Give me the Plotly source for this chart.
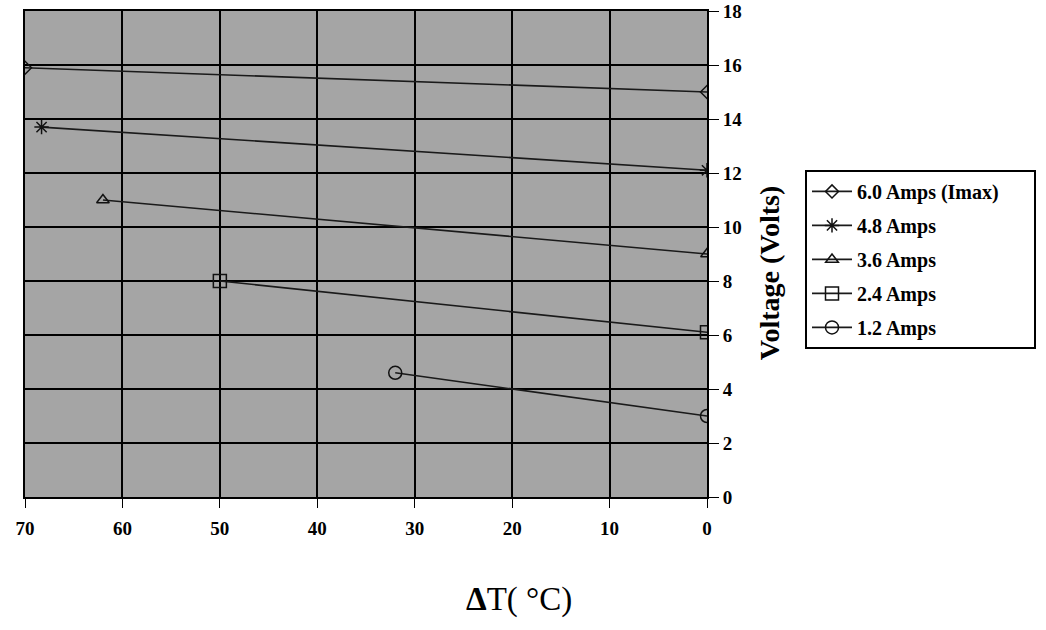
import plotly.graph_objects as go

# Data
series_names = ["6.0 Amps (Imax)", "4.8 Amps", "3.6 Amps", "2.4 Amps", "1.2 Amps"]
dt_values = [
    [70, 0],
    [68.3, 0],
    [62, 0],
    [50, 0],
    [32, 0],
]
voltage_values = [
    [15.9, 15.0],
    [13.7, 12.1],
    [11.0, 9.0],
    [8.0, 6.1],
    [4.6, 3.0],
]
markers = ["diamond-open", "asterisk-open", "triangle-up-open", "square-open", "circle-open"]
marker_sizes = [10, 12, 11, 13, 13]

x_ticks = [70, 60, 50, 40, 30, 20, 10, 0]
y_ticks = [0, 2, 4, 6, 8, 10, 12, 14, 16, 18]

FONT = "Liberation Serif"

fig = go.Figure()
for i, (name, xs, ys, m, s) in enumerate(zip(series_names, dt_values, voltage_values, markers, marker_sizes)):
    label = name + ("\u00a0" * 6 if i == 0 else "")
    fig.add_trace(go.Scatter(
        x=xs, y=ys, name=label, mode="lines+markers", legendgroup=f"g{i}",
        line=dict(color="#1a1a1a", width=1.6),
        marker=dict(symbol=m, size=s, color="#111111", line=dict(width=1.5, color="#111111")),
    ))

fig.update_layout(
    width=1046, height=630,
    paper_bgcolor="white",
    plot_bgcolor="#a5a5a5",
    margin=dict(l=25, r=339, t=11, b=133, autoexpand=False),
    font=dict(family=FONT, size=15, color="black"),
    xaxis=dict(
        range=[70, 0], tickvals=x_ticks, ticktext=[str(v) for v in x_ticks],
        showgrid=True, gridcolor="black", gridwidth=1.5,
        showline=True, linecolor="black", linewidth=2, mirror=True,
        ticks="outside", ticklen=9, tickcolor="black", ticklabelstandoff=4,
        tickfont=dict(family=FONT, size=19, color="black", weight="bold"),
        zeroline=False, automargin=False, ticklabeloverflow="allow",
    ),
    yaxis=dict(
        range=[0, 18], tickvals=y_ticks, side="right",
        showgrid=True, gridcolor="black", gridwidth=1.5,
        showline=True, linecolor="black", linewidth=2, mirror=True,
        ticks="outside", ticklen=10, tickcolor="black",
        tickfont=dict(family=FONT, size=19, color="black", weight="bold"),
        zeroline=False, automargin=False, ticklabeloverflow="allow",
    ),
    legend=dict(
        x=1.1437, y=0.673, xanchor="left", yanchor="top",
        bgcolor="white", bordercolor="black", borderwidth=2,
        font=dict(family=FONT, size=20, color="black", weight="bold"),
        tracegroupgap=5, itemwidth=40,
    ),
    showlegend=True,
)

fig.add_annotation(
    x=1.092, y=0.46, xref="paper", yref="paper", xanchor="center", yanchor="middle",
    text="Voltage (Volts)", showarrow=False, textangle=-90,
    font=dict(family=FONT, size=28, color="black", weight="bold"),
)

fig.add_annotation(
    x=0.724, y=-0.211, xref="paper", yref="paper", xanchor="center", yanchor="middle",
    text="<b>Δ</b>T( °C)", showarrow=False,
    font=dict(family=FONT, size=33, color="black"),
)

fig.write_html("out.html", config={"displayModeBar": False},
               post_script="document.body.style.margin='0';")
